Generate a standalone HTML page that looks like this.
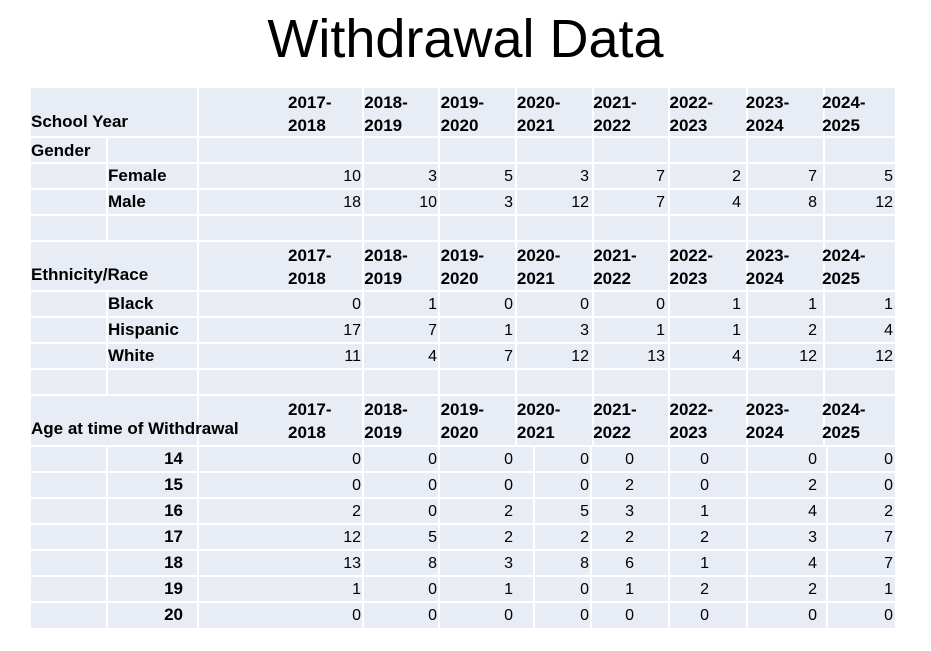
<!DOCTYPE html>
<html><head><meta charset="utf-8"><style>
body{margin:0;width:931px;height:651px;background:#fff;position:relative;overflow:hidden;font-family:"Liberation Sans",Arial,sans-serif}
#title{position:absolute;left:0;width:931px;top:8px;text-align:center;font-size:54px;color:#000}
.t{position:absolute;white-space:nowrap;color:#000}
.b{font-weight:bold;font-size:17px}
.n{font-size:16px;text-align:right}
.bg{position:absolute;left:31px;width:864px;background:#e8ecf4}
.hl{position:absolute;height:2px;background:#fff}
.vl{position:absolute;width:2px;background:#fff}
</style></head><body>
<div id="title">Withdrawal Data</div>
<div id="tbl"></div>
<script>
const years=["2017-\n2018","2018-\n2019","2019-\n2020","2020-\n2021","2021-\n2022","2022-\n2023","2023-\n2024","2024-\n2025"];
const female=[10,3,5,3,7,2,7,5];
const male=[18,10,3,12,7,4,8,12];
const black=[0,1,0,0,0,1,1,1];
const hispanic=[17,7,1,3,1,1,2,4];
const white=[11,4,7,12,13,4,12,12];
const ages=["14","15","16","17","18","19","20"];
const ageVals=[[0,0,0,0,0,0,0,0],[0,0,0,0,2,0,2,0],[2,0,2,5,3,1,4,2],[12,5,2,2,2,2,3,7],[13,8,3,8,6,1,4,7],[1,0,1,0,1,2,2,1],[0,0,0,0,0,0,0,0]];
const T=document.getElementById('tbl');
function div(cls,css,txt){const d=document.createElement('div');d.className=cls;d.style.cssText=css;if(txt!==undefined)d.textContent=txt;T.appendChild(d);return d;}
const bg=div('bg','top:88px;height:540px');


const rowLines=[137,163,189,215,241,291,317,343,369,395,446,472,498,524,550,576,602];
rowLines.forEach(y=>{const l=div('hl','left:31px;width:864px;top:'+(y-1)+'px');

});
const colsMain=[107,198,363,439,516,593,669,747,824];
const colsHead=[198,363,439,516,593,669,747,824];
const colsAge=[107,198,363,439,534,591,669,747,827];
function vseg(xs,y0,y1){xs.forEach(x=>{const l=div('vl','left:'+(x-1)+'px;top:'+y0+'px;height:'+(y1-y0)+'px');

});}
vseg(colsHead,88,137);vseg(colsMain,137,241);vseg(colsHead,241,291);vseg(colsMain,291,395);vseg(colsHead,395,446);vseg(colsAge,446,628);
const ageNumX=[361,437,513,589,634,709,817,893];
const numX=[361,437,513,589,665,741,817,893];
function header(y,label,name){
  const l=div('t b','left:31px;top:'+(y+24)+'px',label);
  
  
  years.forEach((yr,i)=>{const h=div('t b','left:'+(288+i*76.3)+'px;top:'+(y+3)+'px;line-height:23px;white-space:pre',yr);
  
  });
}
function row(y,label,lx,vals,name,xs,right){
  const l=div('t b',(right?'left:100px;width:83px;text-align:right;':'left:'+lx+'px;')+'top:'+(y+3)+'px',label);
  
  
  vals.forEach((v,i)=>{const c=div('t n','left:'+(xs[i]-60)+'px;width:60px;top:'+(y+5)+'px',String(v));
  
  });
}
header(88,'School Year','school-year-header');
const g=div('t b','left:31px;top:141px','Gender');


row(163,'Female',108,female,'female',numX);
row(189,'Male',108,male,'male',numX);
header(241,'Ethnicity/Race','ethnicity-header');
row(291,'Black',108,black,'black',numX);
row(317,'Hispanic',108,hispanic,'hispanic',numX);
row(343,'White',108,white,'white',numX);
header(395,'Age at time of Withdrawal','age-header');
ages.forEach((a,i)=>row(446+i*26,a,0,ageVals[i],'age-'+a,ageNumX,true));
</script>
</body></html>
